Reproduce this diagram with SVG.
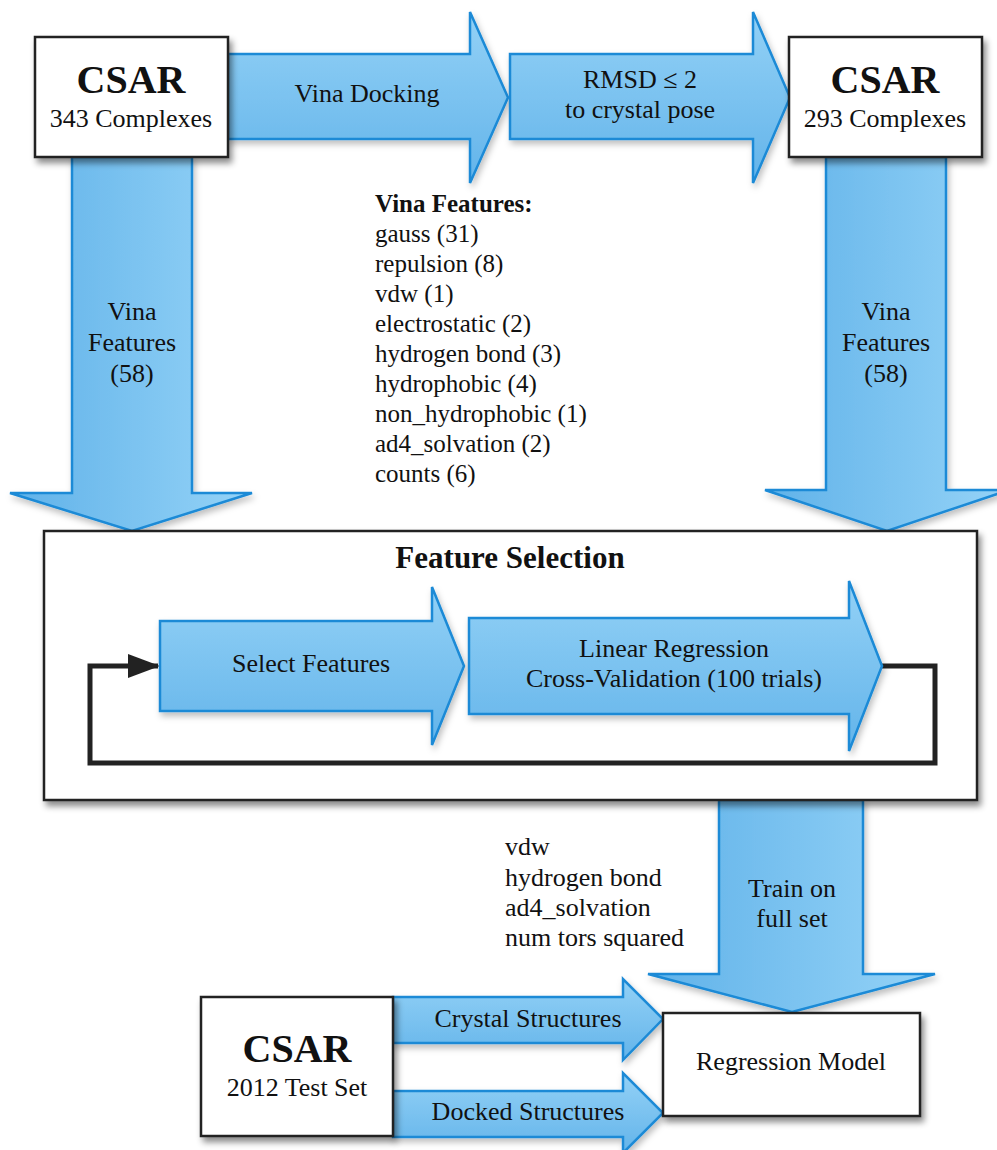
<svg xmlns="http://www.w3.org/2000/svg" width="997" height="1150" viewBox="0 0 997 1150" font-family="'Liberation Serif', 'Times New Roman', 'DejaVu Serif', serif">
  <defs>
    <linearGradient id="gv" x1="0" y1="0" x2="0" y2="1">
      <stop offset="0" stop-color="#93d1f6"/>
      <stop offset="1" stop-color="#63b4ea"/>
    </linearGradient>
    <linearGradient id="gh" x1="0" y1="0" x2="1" y2="0">
      <stop offset="0" stop-color="#60b2e9"/>
      <stop offset="1" stop-color="#95d3f7"/>
    </linearGradient>
    <filter id="sh" x="-10%" y="-10%" width="130%" height="140%">
      <feDropShadow dx="3" dy="5" stdDeviation="3" flood-color="#000" flood-opacity="0.45"/>
    </filter>
    <filter id="sha" x="-10%" y="-10%" width="130%" height="140%">
      <feDropShadow dx="2" dy="4" stdDeviation="3" flood-color="#000" flood-opacity="0.25"/>
    </filter>
    <marker id="ah" viewBox="0 0 32 24" refX="30" refY="12" markerWidth="32" markerHeight="24" markerUnits="userSpaceOnUse" orient="auto">
      <path d="M0,0 L32,12 L0,24 Z" fill="#222"/>
    </marker>
  </defs>
  <style>
    .box { fill: #fff; stroke: #222; stroke-width: 2.5; filter: url(#sh); }
    .ah { fill: url(#gv); stroke: #1b8ad6; stroke-width: 2.5; stroke-linejoin: miter; filter: url(#sha); }
    .av { fill: url(#gh); stroke: #1b8ad6; stroke-width: 2.5; stroke-linejoin: miter; filter: url(#sha); }
    text { font-family: "Liberation Serif", "Times New Roman", "DejaVu Serif", serif; fill: #111; }
    .t { font-size: 26px; text-anchor: middle; }
    .ts { font-size: 26px; text-anchor: start; }
    .big { font-size: 40px; font-weight: bold; text-anchor: middle; }
    .list { font-size: 25px; }
    .loop { fill: none; stroke: #222; stroke-width: 5; stroke-linejoin: miter; }
  </style>

  <g id="connectors">
    <g id="arrow-vina-docking">
      <path class="ah" d="M228,54 H470 V12 L508,97.5 L470,183 V139 H228 Z"/>
      <text class="t" x="367" y="102">Vina Docking</text>
    </g>
    <g id="arrow-rmsd">
      <path class="ah" d="M510,54 H753 V12 L790,97.5 L753,183 V139 H510 Z"/>
      <text class="t" x="640" y="88">RMSD ≤ 2</text>
      <text class="t" x="640" y="118">to crystal pose</text>
    </g>
    <g id="arrow-left-down">
      <path class="av" d="M72,157 V493 H10 L132,531 L252,493 H192 V157 Z"/>
      <text class="t" x="132" y="320">Vina</text>
      <text class="t" x="132" y="351">Features</text>
      <text class="t" x="132" y="382">(58)</text>
    </g>
    <g id="arrow-right-down">
      <path class="av" d="M826,157 V490 H765 L887,531 L1009,490 H946 V157 Z"/>
      <text class="t" x="886" y="320">Vina</text>
      <text class="t" x="886" y="351">Features</text>
      <text class="t" x="886" y="382">(58)</text>
    </g>
    <g id="arrow-train">
      <path class="av" d="M719,800 V974 H648 L792,1012 L935,974 H863 V800 Z"/>
      <text class="t" x="792" y="897">Train on</text>
      <text class="t" x="792" y="927">full set</text>
    </g>
    <g id="arrow-crystal">
      <path class="ah" d="M393,997 H623 V979 L663,1019 L623,1060 V1043 H393 Z"/>
      <text class="t" x="528" y="1027">Crystal Structures</text>
    </g>
    <g id="arrow-docked">
      <path class="ah" d="M393,1091 H623 V1073 L663,1113 L623,1153 V1137 H393 Z"/>
      <text class="t" x="528" y="1120">Docked Structures</text>
    </g>
  </g>

  <g id="csar343">
    <rect class="box" x="35" y="37" width="193" height="120"/>
    <text class="big" x="131" y="93">CSAR</text>
    <text class="t" x="131" y="127">343 Complexes</text>
  </g>
  <g id="csar293">
    <rect class="box" x="789" y="37" width="193" height="120"/>
    <text class="big" x="885" y="93">CSAR</text>
    <text class="t" x="885" y="127">293 Complexes</text>
  </g>

  <g id="vina-features-list">
    <text class="list" x="375" y="212" font-weight="bold">Vina Features:</text>
    <text class="list" x="375" y="242">gauss (31)</text>
    <text class="list" x="375" y="272">repulsion (8)</text>
    <text class="list" x="375" y="302">vdw (1)</text>
    <text class="list" x="375" y="332">electrostatic (2)</text>
    <text class="list" x="375" y="362">hydrogen bond (3)</text>
    <text class="list" x="375" y="392">hydrophobic (4)</text>
    <text class="list" x="375" y="422">non_hydrophobic (1)</text>
    <text class="list" x="375" y="452">ad4_solvation (2)</text>
    <text class="list" x="375" y="482">counts (6)</text>
  </g>

  <g id="feature-selection">
    <rect class="box" x="44" y="531" width="933" height="269"/>
    <text x="510" y="568" font-size="31" font-weight="bold" text-anchor="middle">Feature Selection</text>
  </g>
  <g id="loop">
    <path class="loop" d="M882,666 H935 V763 H90 V666 H158" marker-end="url(#ah)"/>
  </g>
  <g id="select-features">
    <path class="ah" d="M160,621 H432 V587 L464,666 L432,745 V711 H160 Z"/>
    <text class="t" x="311" y="672">Select Features</text>
  </g>
  <g id="linear-regression">
    <path class="ah" d="M469,618 H849 V581 L882,666 L849,751 V714 H469 Z"/>
    <text class="t" x="674" y="657">Linear Regression</text>
    <text class="t" x="674" y="687">Cross-Validation (100 trials)</text>
  </g>

  <g id="selected-features">
    <text class="ts" x="505" y="855">vdw</text>
    <text class="ts" x="505" y="886">hydrogen bond</text>
    <text class="ts" x="505" y="916">ad4_solvation</text>
    <text class="ts" x="505" y="946">num tors squared</text>
  </g>

  <g id="csar2012">
    <rect class="box" x="201" y="997" width="192" height="139"/>
    <text class="big" x="297" y="1062">CSAR</text>
    <text class="t" x="297" y="1096">2012 Test Set</text>
  </g>
  <g id="regression-model">
    <rect class="box" x="663" y="1013" width="257" height="103"/>
    <text class="t" x="791" y="1070">Regression Model</text>
  </g>
</svg>
